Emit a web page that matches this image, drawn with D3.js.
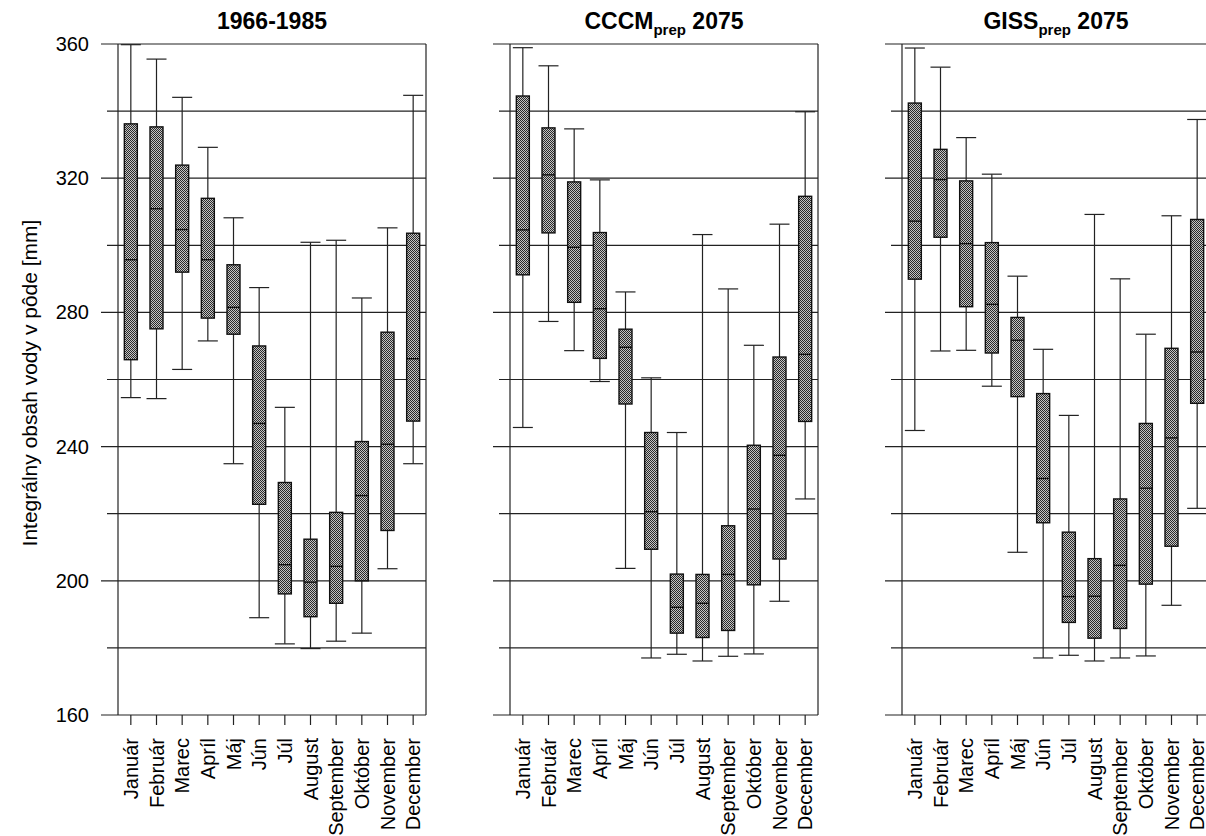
<!DOCTYPE html>
<meta charset="utf-8">
<title>Integrálny obsah vody v pôde</title>
<style>
body { margin: 0; background: #fff; }
text { font-family: "Liberation Sans", Arial, sans-serif; }
</style>
<svg width="1206" height="836"></svg>
<script src="https://cdn.jsdelivr.net/npm/d3@7/dist/d3.min.js"></script>
<script>

//months on the x axis
var months = ["Január", "Február", "Marec", "Apríl", "Máj", "Jún", "Júl",
  "August", "September", "Október", "November", "December"];

//y ticks, the labelled ones are longer
var yTicks = [180, 200, 220, 240, 260, 280, 300, 320, 340, 360];
var yLabelled = [160, 200, 240, 280, 320, 360];

//1966-1985
var p1Low  = [254.6, 254.3, 263.0, 271.5, 234.9, 189.0, 181.2, 179.8, 182.0, 184.4, 203.6, 234.9];
var p1Q1   = [265.9, 275.1, 292.0, 278.3, 273.5, 222.8, 196.1, 189.3, 193.3, 200.0, 215.0, 247.6];
var p1Med  = [295.7, 310.9, 304.7, 295.7, 281.5, 246.9, 204.8, 199.6, 204.3, 225.4, 240.7, 266.2];
var p1Q3   = [336.2, 335.3, 323.9, 314.0, 294.2, 270.0, 229.3, 212.4, 220.4, 241.5, 274.1, 303.6];
var p1High = [359.8, 355.5, 344.1, 329.2, 308.2, 287.4, 251.7, 300.9, 301.5, 284.3, 305.2, 344.7];

//CCCM prep 2075
var p2Low  = [245.7, 277.3, 268.6, 259.4, 203.7, 177.0, 178.1, 176.1, 177.5, 178.2, 193.9, 224.4];
var p2Q1   = [291.2, 303.7, 283.0, 266.3, 252.7, 209.4, 184.4, 183.1, 185.2, 198.8, 206.5, 247.5];
var p2Med  = [304.6, 321.0, 299.4, 281.1, 269.6, 220.6, 192.1, 193.3, 201.9, 221.4, 237.4, 267.5];
var p2Q3   = [344.5, 335.0, 318.9, 303.8, 275.0, 244.2, 202.0, 201.9, 216.4, 240.4, 266.7, 314.6];
var p2High = [358.9, 353.5, 334.7, 319.5, 286.1, 260.5, 244.2, 303.2, 287.0, 270.2, 306.3, 339.8];

//GISS prep 2075
var p3Low  = [244.8, 268.5, 268.7, 258.0, 208.5, 177.0, 177.8, 176.1, 177.0, 177.6, 192.7, 221.6];
var p3Q1   = [289.9, 302.4, 281.7, 267.9, 254.9, 217.3, 187.6, 182.9, 185.8, 199.0, 210.3, 252.9];
var p3Med  = [307.2, 319.6, 300.5, 282.4, 271.7, 230.5, 195.3, 195.4, 204.6, 227.6, 242.6, 268.2];
var p3Q3   = [342.4, 328.6, 319.2, 300.8, 278.5, 255.8, 214.5, 206.6, 224.4, 246.9, 269.3, 307.7];
var p3High = [358.8, 353.1, 332.1, 321.2, 290.8, 269.0, 249.3, 309.2, 290.0, 273.5, 308.8, 337.5];

var panels = [
  { title: "1966-1985", sub: null, rest: null, left: 118, low: p1Low, q1: p1Q1, med: p1Med, q3: p1Q3, high: p1High },
  { title: "CCCM", sub: "prep", rest: " 2075", left: 510, low: p2Low, q1: p2Q1, med: p2Med, q3: p2Q3, high: p2High },
  { title: "GISS", sub: "prep", rest: " 2075", left: 902, low: p3Low, q1: p3Q1, med: p3Med, q3: p3Q3, high: p3High }
];

var svg = d3.select("svg");
var panelWidth = 308;
var boxWidth = 13, capWidth = 20;
var lineColor = "#222";

var y = d3.scaleLinear()
  .domain([160, 360])
  .range([715, 44]);

//fine checker pattern for the boxes
var pat = svg.append("defs").append("pattern")
  .attr("id", "checker")
  .attr("width", 2)
  .attr("height", 2)
  .attr("patternUnits", "userSpaceOnUse");
pat.append("rect").attr("width", 2).attr("height", 2).attr("fill", "#c4c4c4");
pat.append("rect").attr("width", 1).attr("height", 1).attr("fill", "#2a2a2a");
pat.append("rect").attr("x", 1).attr("y", 1).attr("width", 1).attr("height", 1).attr("fill", "#2a2a2a");

//y axis title
svg.append("text")
  .attr("transform", "translate(37,383) rotate(-90)")
  .attr("text-anchor", "middle")
  .attr("font-size", 21)
  .text("Integrálny obsah vody v pôde [mm]");

//tick labels only on the first panel
svg.append("g").selectAll("text")
  .data(yLabelled)
  .enter().append("text")
  .attr("x", 89)
  .attr("y", function(d) { return y(d); })
  .attr("dy", "0.35em")
  .attr("text-anchor", "end")
  .attr("font-size", 20)
  .text(function(d) { return d; });

panels.forEach(function(p) {
  var x = d3.scaleBand()
    .domain(months)
    .range([p.left, p.left + panelWidth]);

  var g = svg.append("g");

  //gridlines (and ticks to the left of the axis)
  g.selectAll("line.grid")
    .data(yTicks.concat([160]))
    .enter().append("line")
    .attr("class", "grid")
    .attr("x1", function(d) { return p.left - (yLabelled.indexOf(d) >= 0 ? 17 : 11); })
    .attr("x2", p.left + panelWidth)
    .attr("y1", function(d) { return y(d); })
    .attr("y2", function(d) { return y(d); })
    .attr("stroke", lineColor)
    .attr("stroke-width", 1.2);

  //left axis and right border
  g.append("line")
    .attr("x1", p.left).attr("x2", p.left)
    .attr("y1", y(360)).attr("y2", y(160))
    .attr("stroke", lineColor).attr("stroke-width", 1.2);
  g.append("line")
    .attr("x1", p.left + panelWidth).attr("x2", p.left + panelWidth)
    .attr("y1", y(360)).attr("y2", y(160))
    .attr("stroke", lineColor).attr("stroke-width", 1.2);

  //x axis with month names
  var xAxis = g.append("g")
    .attr("transform", "translate(0," + y(160) + ")")
    .call(d3.axisBottom(x).tickSize(10).tickSizeOuter(0));
  xAxis.select(".domain").remove();
  xAxis.selectAll(".tick line").attr("stroke", lineColor).attr("stroke-width", 1.2);
  xAxis.selectAll(".tick text")
    .attr("font-size", 20)
    .attr("font-family", "Liberation Sans, Arial, sans-serif")
    .attr("fill", "#000")
    .attr("text-anchor", "end")
    .attr("transform", "rotate(-90)")
    .attr("x", -23)
    .attr("y", 0)
    .attr("dy", "0.35em");

  var cx = function(i) { return x(months[i]) + x.bandwidth() / 2; };

  var b = g.selectAll("g.box")
    .data(months)
    .enter().append("g")
    .attr("class", "box");

  //whiskers
  b.append("line")
    .attr("x1", function(d, i) { return cx(i); })
    .attr("x2", function(d, i) { return cx(i); })
    .attr("y1", function(d, i) { return y(p.low[i]); })
    .attr("y2", function(d, i) { return y(p.high[i]); })
    .attr("stroke", lineColor).attr("stroke-width", 1.2);
  b.append("line")
    .attr("x1", function(d, i) { return cx(i) - capWidth / 2; })
    .attr("x2", function(d, i) { return cx(i) + capWidth / 2; })
    .attr("y1", function(d, i) { return y(p.low[i]); })
    .attr("y2", function(d, i) { return y(p.low[i]); })
    .attr("stroke", lineColor).attr("stroke-width", 1.2);
  b.append("line")
    .attr("x1", function(d, i) { return cx(i) - capWidth / 2; })
    .attr("x2", function(d, i) { return cx(i) + capWidth / 2; })
    .attr("y1", function(d, i) { return y(p.high[i]); })
    .attr("y2", function(d, i) { return y(p.high[i]); })
    .attr("stroke", lineColor).attr("stroke-width", 1.2);

  //box
  b.append("rect")
    .attr("x", function(d, i) { return cx(i) - boxWidth / 2; })
    .attr("width", boxWidth)
    .attr("y", function(d, i) { return y(p.q3[i]); })
    .attr("height", function(d, i) { return y(p.q1[i]) - y(p.q3[i]); })
    .attr("fill", "url(#checker)")
    .attr("stroke", "#111")
    .attr("stroke-width", 1.4);

  //median
  b.append("line")
    .attr("x1", function(d, i) { return cx(i) - boxWidth / 2; })
    .attr("x2", function(d, i) { return cx(i) + boxWidth / 2; })
    .attr("y1", function(d, i) { return y(p.med[i]); })
    .attr("y2", function(d, i) { return y(p.med[i]); })
    .attr("stroke", "#111").attr("stroke-width", 1.4);

  //panel title, with subscript
  var t = svg.append("text")
    .attr("x", p.left + panelWidth / 2)
    .attr("y", 29)
    .attr("text-anchor", "middle")
    .attr("font-size", 23)
    .attr("font-weight", "bold");
  t.append("tspan").text(p.title);
  if (p.sub) {
    t.append("tspan").attr("font-size", 15).attr("dy", 6).text(p.sub);
    t.append("tspan").attr("dy", -6).text(p.rest);
  }
});

</script>
